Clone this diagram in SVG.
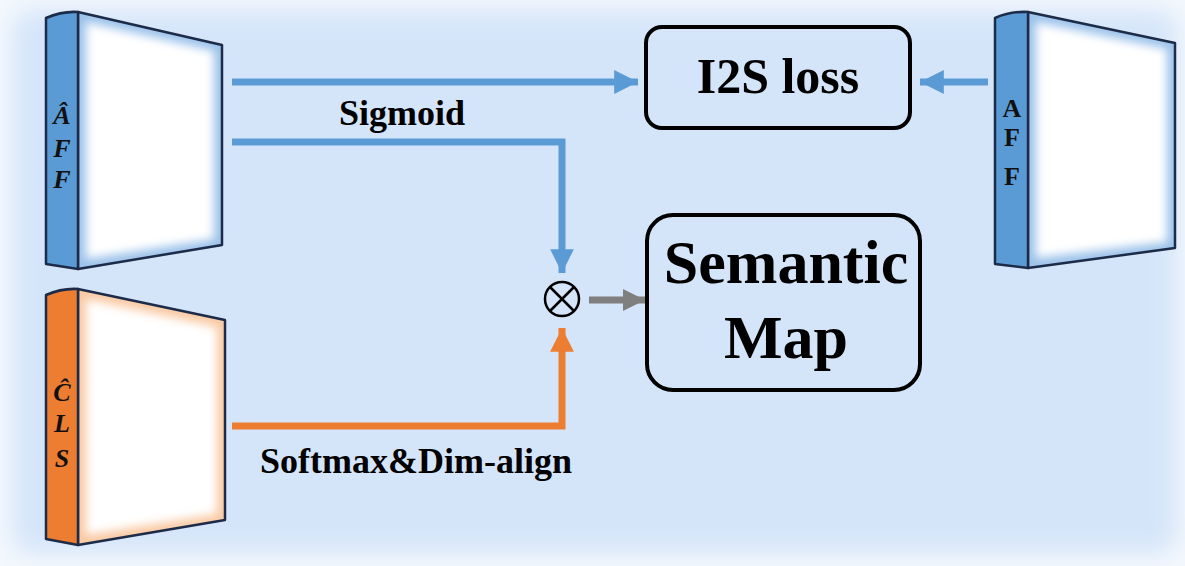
<svg xmlns="http://www.w3.org/2000/svg" width="1185" height="566" viewBox="0 0 1185 566">
  <defs>
    <filter id="soft" x="-20%" y="-20%" width="140%" height="140%">
      <feGaussianBlur stdDeviation="12"/>
    </filter>
    <filter id="glow" x="-20%" y="-20%" width="140%" height="140%">
      <feGaussianBlur stdDeviation="5"/>
    </filter>
    <clipPath id="clipA"><polygon points="78,12 222,45 222,245 78,269"/></clipPath>
    <clipPath id="clipC"><polygon points="78,289 225,320 225,520 78,545"/></clipPath>
    <clipPath id="clipR"><polygon points="1028,12 1175,43 1175,248 1028,268"/></clipPath>
    <marker id="headBlue" viewBox="0 0 10 10" refX="10" refY="5" markerWidth="3.4" markerHeight="3.4" markerUnits="strokeWidth" orient="auto">
      <path d="M0,0 L10,5 L0,10 z" fill="#5b9bd5"/>
    </marker>
    <marker id="headOrange" viewBox="0 0 10 10" refX="10" refY="5" markerWidth="3.4" markerHeight="3.4" markerUnits="strokeWidth" orient="auto">
      <path d="M0,0 L10,5 L0,10 z" fill="#ed7d31"/>
    </marker>
    <marker id="headGray" viewBox="0 0 10 10" refX="10" refY="5" markerWidth="3.2" markerHeight="3.2" markerUnits="strokeWidth" orient="auto">
      <path d="M0,0 L10,5 L0,10 z" fill="#7f7f7f"/>
    </marker>
  </defs>
  <style>
    .edge { stroke: #1c2b48; stroke-width: 2.5; stroke-linejoin: round; }
    .lbl { font-family: "Liberation Serif", "Times New Roman", serif; font-weight: bold; fill: #000; }
    .side { font-family: "Liberation Serif", "Times New Roman", serif; font-weight: bold; font-size: 26px; fill: #111; text-anchor: middle; }
    .box { fill: none; stroke: #000; stroke-width: 4; }
    .flow { fill: none; stroke-width: 7; stroke-linejoin: miter; }
  </style>

  <!-- backdrop -->
  <rect width="1185" height="566" fill="#f4f8fd"/>
  <rect x="12" y="10" width="1166" height="544" rx="20" fill="#d5e5f9" filter="url(#soft)"/>

  <!-- connectors -->
  <g id="connectors">
    <path class="flow" d="M232,82 H638" stroke="#5b9bd5" marker-end="url(#headBlue)"/>
    <path class="flow" d="M232,142 H562 V273" stroke="#5b9bd5" marker-end="url(#headBlue)"/>
    <path class="flow" d="M232,426 H562 V328" stroke="#ed7d31" marker-end="url(#headOrange)"/>
    <path class="flow" d="M988,82 H920" stroke="#5b9bd5" marker-end="url(#headBlue)"/>
    <path class="flow" d="M589,300 H645" stroke="#7f7f7f" marker-end="url(#headGray)"/>
  </g>

  <!-- predicted affinity feature block -->
  <g id="aff-hat">
    <polygon points="78,12 222,45 222,245 78,269" fill="#9cc2ea"/>
    <g clip-path="url(#clipA)">
      <polygon points="86,22 214,51 214,239 86,259" fill="#ffffff" filter="url(#glow)"/>
    </g>
    <polygon class="edge" points="78,12 222,45 222,245 78,269" fill="none"/>
    <path class="edge" d="M46,18 Q62,11 78,12 V269 L46,264 Z" fill="#5b9bd5"/>
    <text class="side" x="62" y="124" font-style="italic">Â</text>
    <text class="side" x="62" y="157" font-style="italic">F</text>
    <text class="side" x="62" y="188" font-style="italic">F</text>
  </g>

  <!-- predicted class feature block -->
  <g id="cls-hat">
    <polygon points="78,289 225,320 225,520 78,545" fill="#f9c9a3"/>
    <g clip-path="url(#clipC)">
      <polygon points="86,299 217,327 217,514 86,535" fill="#ffffff" filter="url(#glow)"/>
    </g>
    <polygon class="edge" points="78,289 225,320 225,520 78,545" fill="none"/>
    <path class="edge" d="M46,295 Q62,288 78,289 V545 L46,539 Z" fill="#ed7d31"/>
    <text class="side" x="62" y="401" font-style="italic">Ĉ</text>
    <text class="side" x="62" y="432" font-style="italic">L</text>
    <text class="side" x="62" y="467" font-style="italic">S</text>
  </g>

  <!-- ground-truth affinity feature block -->
  <g id="aff">
    <polygon points="1028,12 1175,43 1175,248 1028,268" fill="#9cc2ea"/>
    <g clip-path="url(#clipR)">
      <polygon points="1036,22 1167,49 1167,242 1036,258" fill="#ffffff" filter="url(#glow)"/>
    </g>
    <polygon class="edge" points="1028,12 1175,43 1175,248 1028,268" fill="none"/>
    <path class="edge" d="M995,18 Q1011,11 1028,12 V268 L995,264 Z" fill="#5b9bd5"/>
    <text class="side" x="1012" y="117">A</text>
    <text class="side" x="1012" y="146">F</text>
    <text class="side" x="1012" y="185">F</text>
  </g>

  <!-- loss box -->
  <g id="i2s-loss">
    <rect class="box" x="646" y="27" width="264" height="101" rx="16"/>
    <text class="lbl" x="778" y="93" font-size="50" text-anchor="middle">I2S loss</text>
  </g>

  <!-- element-wise product -->
  <g id="multiply">
    <circle cx="562" cy="299" r="17" fill="none" stroke="#000" stroke-width="2.5"/>
    <path d="M550,287 L574,311 M574,287 L550,311" stroke="#000" stroke-width="2.5"/>
  </g>

  <!-- output map box -->
  <g id="semantic-map">
    <rect class="box" x="647" y="215" width="273" height="175" rx="26"/>
    <text class="lbl" x="786" y="283" font-size="62" text-anchor="middle">Semantic</text>
    <text class="lbl" x="786" y="358" font-size="62" text-anchor="middle">Map</text>
  </g>

  <!-- connector labels -->
  <text class="lbl" x="402" y="125" font-size="36" text-anchor="middle">Sigmoid</text>
  <text class="lbl" x="416" y="473" font-size="36" text-anchor="middle">Softmax&amp;Dim-align</text>
</svg>
